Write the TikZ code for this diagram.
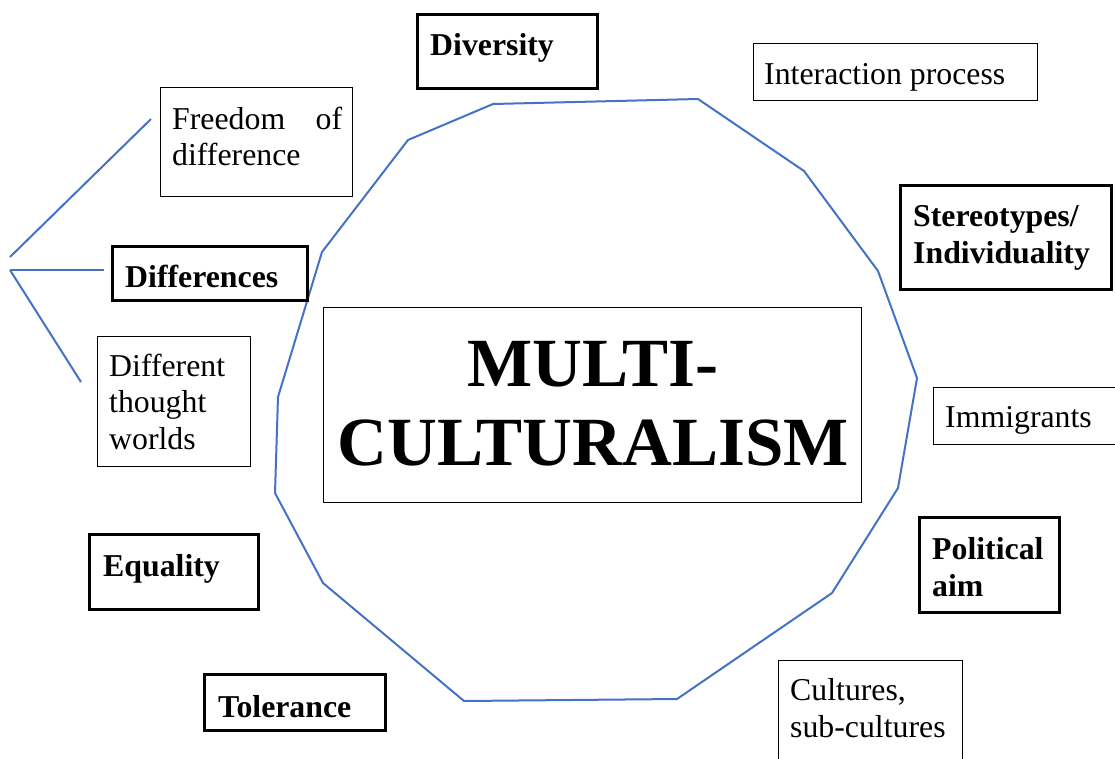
\documentclass[tikz,border=0pt]{standalone}
\usepackage{fontspec}
\setmainfont{Liberation Serif}
\definecolor{polyblue}{RGB}{68,114,196}
\tikzset{
 thinbox/.style={draw=black, line width=1.2pt, anchor=north west, inner sep=0pt},
 thickbox/.style={draw=black, line width=3pt, anchor=north west, inner sep=0pt},
 lbl/.style={anchor=base west, inner sep=0pt, align=left, font=\fontsize{31.8}{36.2}\selectfont},
 blbl/.style={lbl, font=\fontsize{31.8}{36.2}\selectfont\bfseries},
 poly/.style={draw=polyblue, line width=2pt, line join=miter},
 conn/.style={draw=polyblue, line width=2pt}
}
\begin{document}
\begin{tikzpicture}[x=1pt,y=-1pt]
\useasboundingbox (0,0) rectangle (1115,758);
% polygon
\draw[poly] (493,104) -- (698,99) -- (804,171) -- (878,271) -- (917,378) -- (898,488)
 -- (832,593) -- (677,699) -- (464,701) -- (323,583) -- (275,493) -- (278,397)
 -- (322,252) -- (408,140) -- cycle;
% central box (multi-line nodes: base anchor = baseline of the last line)
\node[thinbox, minimum width=538pt, minimum height=195pt] (mcbox) at (323,307) {};
\node[anchor=base, inner sep=0pt, align=center, font=\fontsize{69}{79}\selectfont\bfseries] (mctext) at (593,465) {MULTI-\\CULTURALISM};
% Diversity
\node[thickbox, minimum width=180pt, minimum height=74pt] (divbox) at (416,13) {};
\node[blbl] (divtext) at (430,55) {Diversity};
% Interaction process
\node[thinbox, minimum width=284pt, minimum height=57pt] (intbox) at (753,43) {};
\node[lbl] (inttext) at (764,84) {Interaction process};
% Freedom of difference
\node[thinbox, minimum width=192pt, minimum height=109pt] (frbox) at (160,87) {};
\node[lbl, text width=170pt] (frtext) at (172,129) {Freedom\hfill of\\difference};
% Differences
\node[thickbox, minimum width=195pt, minimum height=54pt] (dfbox) at (111,245) {};
\node[blbl] (dftext) at (125,287) {Differences};
% Different thought worlds
\node[thinbox, minimum width=153pt, minimum height=130pt] (dtbox) at (97,336) {};
\node[lbl] (dttext) at (109,449) {Different\\thought\\worlds};
% Equality
\node[thickbox, minimum width=169pt, minimum height=75pt] (eqbox) at (88,533) {};
\node[blbl] (eqtext) at (103,576) {Equality};
% Tolerance
\node[thickbox, minimum width=181pt, minimum height=56pt] (tolbox) at (203,673) {};
\node[blbl] (toltext) at (218,717) {Tolerance};
% Cultures
\node[thinbox, minimum width=184pt, minimum height=110pt] (culbox) at (778,660) {};
\node[lbl] (cultext) at (790,737) {Cultures,\\sub-cultures};
% Political aim
\node[thickbox, minimum width=140pt, minimum height=95pt] (polbox) at (918,516) {};
\node[blbl] (poltext) at (932,596) {Political\\aim};
% Immigrants
\node[thinbox, minimum width=190pt, minimum height=57pt] (immbox) at (933,387) {};
\node[lbl] (immtext) at (945,427) {Immigrants};
% Stereotypes
\node[thickbox, minimum width=211pt, minimum height=104pt] (stbox) at (899,184) {};
\node[blbl] (sttext) at (913,263) {Stereotypes/\\Individuality};
% left fork lines
\coordinate (forka) at (10,257);
\coordinate (forkb) at (10,270);
\coordinate (enda) at (151,119);
\coordinate (endb) at (104,270);
\coordinate (endc) at (81,382);
\draw[conn] (forka) -- (enda);
\draw[conn] (forkb) -- (endb);
\draw[conn] (forkb) -- (endc);
\end{tikzpicture}
\end{document}
